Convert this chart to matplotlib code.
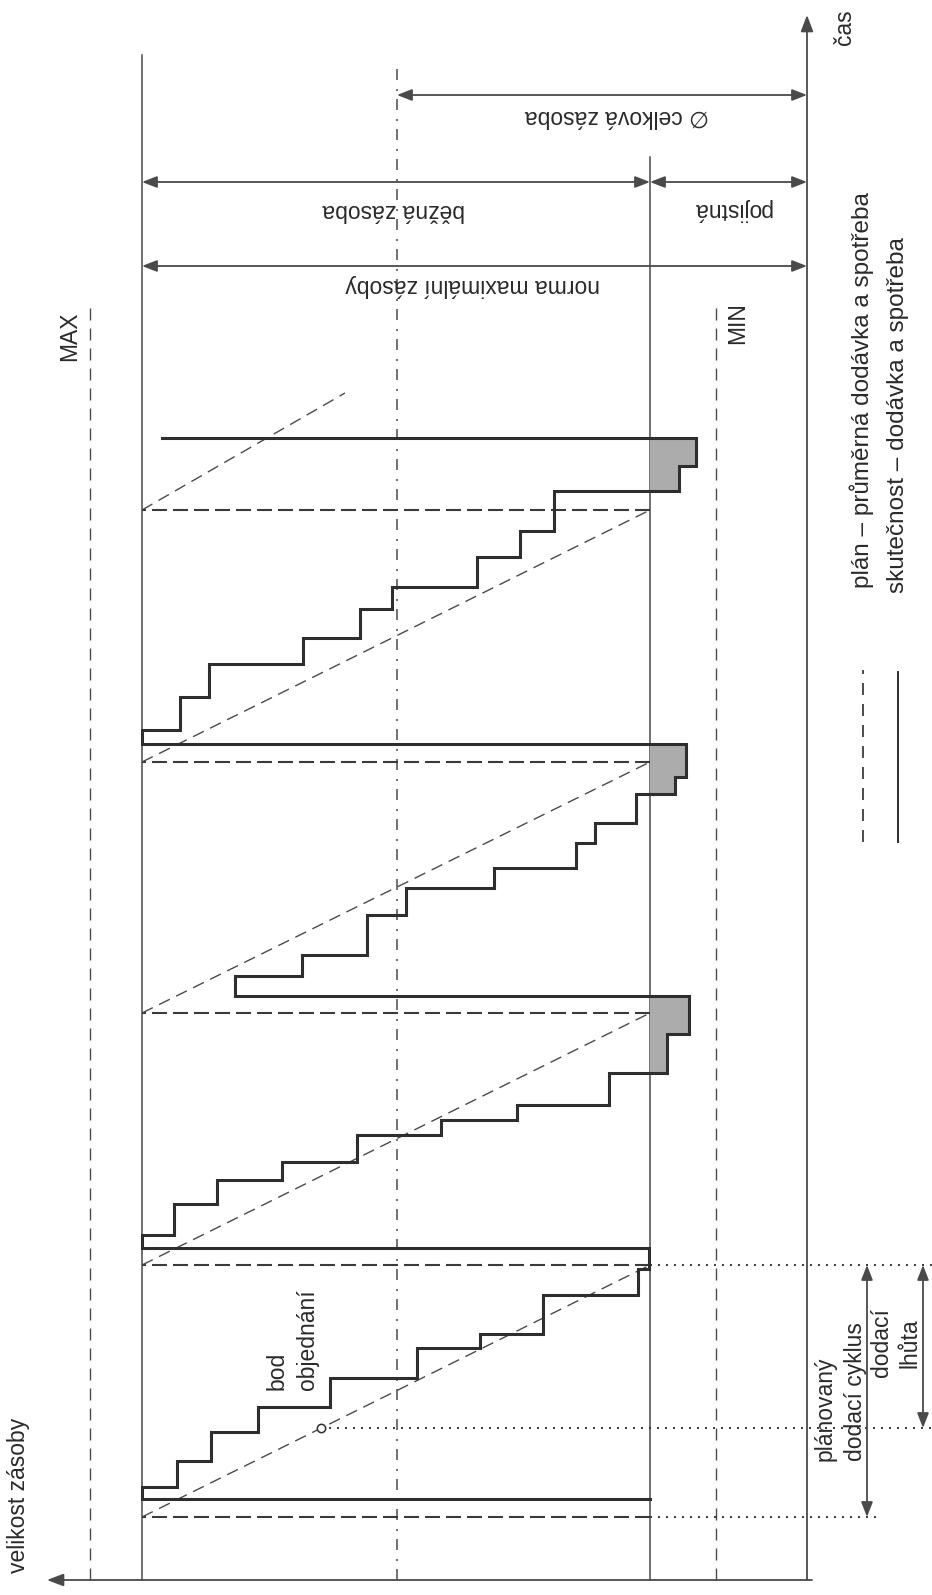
import numpy as np
import matplotlib
matplotlib.use("Agg")
import matplotlib.pyplot as plt

plt.rcParams['font.family'] = ['Liberation Sans', 'DejaVu Sans']

# ---------------- data (stock along the stock axis, time along the time axis) ----------------
LEVEL_MAX = 717        # MAX
LEVEL_NORM = 665       # norma maximální zásoby
LEVEL_AVG = 410        # ∅ celková zásoba
LEVEL_SAFETY = 157     # pojistná zásoba
LEVEL_MIN = 91         # MIN

# plan: average delivery and consumption
plan_delivery_t = [63, 315, 567, 818, 1070]
plan_tail_t = 1187
plan_tail_s = 462
order_t = 152

# reality: deliveries and stepwise consumption
start_s = 157
deliv_t = [81, 332, 584, 836, 1142]
deliv_s = [665, 665, 572, 665, 645]

c1_t = [93, 119, 148, 173, 202, 232, 246, 285, 311]
c1_s = [630, 596, 549, 477, 390, 327, 264, 169, 158]
c2_t = [345, 376, 400, 418, 445, 460, 475, 507, 546]
c2_s = [633, 590, 525, 450, 366, 290, 198, 140, 118]
c3_t = [604, 625, 665, 692, 712, 737, 757, 786, 803]
c3_s = [505, 440, 401, 313, 231, 212, 171, 132, 121]
c4_t = [850, 883, 916, 942, 971, 993, 1023, 1049, 1089, 1114]
c4_s = [627, 598, 504, 447, 415, 330, 287, 253, 128, 111]

# dimension levels (time) of the top annotations
t_total = 1485
t_running = 1398
t_norm = 1314

txt_norm = "norma maximální zásoby"
txt_running = "běžná zásoba"
txt_safety = "pojistná"
txt_total = "∅ celková zásoba"
txt_plan = "plán – průměrná dodávka a spotřeba"
txt_real = "skutečnost – dodávka a spotřeba"

# ---------------- figure ----------------
W, H = 932, 1595
fig = plt.figure(figsize=(W / 100, H / 100), dpi=100)
ax = fig.add_axes([0, 0, 1, 1])
ax.set_xlim(807, -125)
ax.set_ylim(-15, 1580)
ax.axis('off')

DARK = '#2e2e2e'
MID = '#4a4a4a'
TXT = '#2a2a2a'
FS = 16.5


def dash(lw, *px):
    return (0, tuple(p * 72 / 100 / lw for p in px))


t_top = {LEVEL_NORM: 1525, LEVEL_AVG: 1513, LEVEL_SAFETY: 1423, LEVEL_MIN: 1280, LEVEL_MAX: 1275}

# vertical reference lines
ax.plot([LEVEL_NORM] * 2, [0, t_top[LEVEL_NORM]], color=MID, lw=1.1)
ax.plot([LEVEL_SAFETY] * 2, [0, t_top[LEVEL_SAFETY]], color=MID, lw=1.1)
ax.plot([LEVEL_AVG] * 2, [0, t_top[LEVEL_AVG]], color=MID, lw=1.1,
        linestyle=dash(1.1, 11, 8, 2, 9))
ax.plot([LEVEL_MIN] * 2, [0, t_top[LEVEL_MIN]], color=MID, lw=1.0,
        linestyle=dash(1.0, 12, 8))
ax.plot([LEVEL_MAX] * 2, [0, t_top[LEVEL_MAX]], color=MID, lw=1.0,
        linestyle=dash(1.0, 12, 8))

# axes with arrows
ax.annotate('', xy=(0, 1565), xytext=(0, 0),
            arrowprops=dict(arrowstyle='-|>,head_length=1.0,head_width=0.38', color=MID,
                            lw=1.3, shrinkA=0, shrinkB=0, mutation_scale=10))
ax.annotate('', xy=(760, 0), xytext=(-5, 0),
            arrowprops=dict(arrowstyle='-|>,head_length=1.0,head_width=0.38', color=MID,
                            lw=1.3, shrinkA=0, shrinkB=0, mutation_scale=10))

# plan: sawtooth
for k in range(len(plan_delivery_t)):
    ax.plot([LEVEL_SAFETY, LEVEL_NORM], [plan_delivery_t[k]] * 2, color='#3a3a3a', lw=1.5,
            linestyle=dash(1.5, 15, 6))
for k in range(len(plan_delivery_t) - 1):
    ax.plot([LEVEL_NORM, LEVEL_SAFETY], [plan_delivery_t[k], plan_delivery_t[k + 1]],
            color=MID, lw=1.0, linestyle=dash(1.0, 12, 7))
ax.plot([LEVEL_NORM, plan_tail_s], [plan_delivery_t[-1], plan_tail_t],
        color=MID, lw=1.0, linestyle=dash(1.0, 12, 7))

# order point
order_s = np.interp(order_t, [plan_delivery_t[0], plan_delivery_t[1]], [LEVEL_NORM, LEVEL_SAFETY])
ax.plot([order_s], [order_t], marker='o', ms=6, mfc='white', mec=DARK, mew=1.1, zorder=5)

# dotted guide lines to the right
dot = dash(1.3, 2, 6)
ax.plot([LEVEL_SAFETY, -71], [plan_delivery_t[0]] * 2, color=DARK, lw=1.3, linestyle=dot)
ax.plot([LEVEL_SAFETY, -125], [plan_delivery_t[1]] * 2, color=DARK, lw=1.3, linestyle=dot)
ax.plot([order_s, -125], [order_t] * 2, color=DARK, lw=1.3, linestyle=dot)

# reality: staircase
events = [(deliv_t[0], deliv_s[0])]
for ct, cs, dt, ds in [(c1_t, c1_s, deliv_t[1], deliv_s[1]),
                       (c2_t, c2_s, deliv_t[2], deliv_s[2]),
                       (c3_t, c3_s, deliv_t[3], deliv_s[3]),
                       (c4_t, c4_s, deliv_t[4], deliv_s[4])]:
    events += list(zip(ct, cs))
    events.append((dt, ds))

xs, ys = [], []
prev = start_s
for t, s in events:
    xs += [prev, s]
    ys += [t, t]
    prev = s
xs = np.array(xs, dtype=float)
ys = np.array(ys, dtype=float)

ax.fill_betweenx(ys, np.minimum(xs, LEVEL_SAFETY), LEVEL_SAFETY, color='#acacac',
                 linewidth=0, zorder=2)
ax.plot(xs, ys, color=DARK, lw=2.2, solid_joinstyle='miter', zorder=4)

# dimension arrows (top)
arr = dict(arrowstyle='<|-|>,head_length=0.9,head_width=0.35', color=MID, lw=1.3,
           shrinkA=0, shrinkB=0, mutation_scale=10)
ax.annotate('', xy=(LEVEL_AVG, t_total), xytext=(0, t_total), arrowprops=arr)
ax.annotate('', xy=(LEVEL_NORM, t_running), xytext=(LEVEL_SAFETY, t_running), arrowprops=arr)
ax.annotate('', xy=(LEVEL_SAFETY, t_running), xytext=(0, t_running), arrowprops=arr)
ax.annotate('', xy=(LEVEL_NORM, t_norm), xytext=(0, t_norm), arrowprops=arr)

ax.text(190, 1463, txt_total, rotation=180, ha='center', va='center', fontsize=FS, color=TXT)
ax.text(LEVEL_SAFETY / 2 - 4, 1370, txt_safety, rotation=180, ha='center', va='center',
        fontsize=FS, color=TXT)
ax.text(413, 1370, txt_running, rotation=180, ha='center', va='center', fontsize=FS, color=TXT)
ax.text(334, 1294, txt_norm, rotation=180, ha='center', va='center', fontsize=FS, color=TXT)

# dimension arrows (right)
ax.annotate('', xy=(-60, plan_delivery_t[0]), xytext=(-60, plan_delivery_t[1]), arrowprops=arr)
ax.annotate('', xy=(-116, order_t), xytext=(-116, plan_delivery_t[1]), arrowprops=arr)

rot = dict(rotation=90, rotation_mode='anchor', fontsize=FS, color=TXT)
ax.text(-33, 119, "plánovaný\ndodací cyklus", ha='left', va='center', linespacing=1.4,
        multialignment='left', **rot)
ax.text(-89, 237, "dodací\nlhůta", ha='center', va='center', linespacing=1.3,
        multialignment='center', **rot)
ax.text(515, 190, "bod\nobjednání", ha='left', va='center', linespacing=1.4,
        multialignment='left', **rot)

ax.text(789, 7, "velikost zásoby", ha='left', va='center', **rot)
ax.text(-37, 1553, "čas", ha='center', va='center', **rot)
ax.text(737, 1244, "MAX", ha='center', va='center', **rot)
ax.text(69, 1257, "MIN", ha='center', va='center', **rot)

# legend
ax.plot([-56, -56], [738, 910], color=DARK, lw=1.2, linestyle=dash(1.2, 12, 9))
ax.plot([-91, -91], [738, 908], color=DARK, lw=1.4)
rotl = dict(rot)
rotl['fontsize'] = 17.5
ax.text(-55, 992, txt_plan, ha='left', va='center', **rotl)
ax.text(-91, 987, txt_real, ha='left', va='center', **rotl)

fig.savefig('out.png', dpi=100, facecolor='white')
